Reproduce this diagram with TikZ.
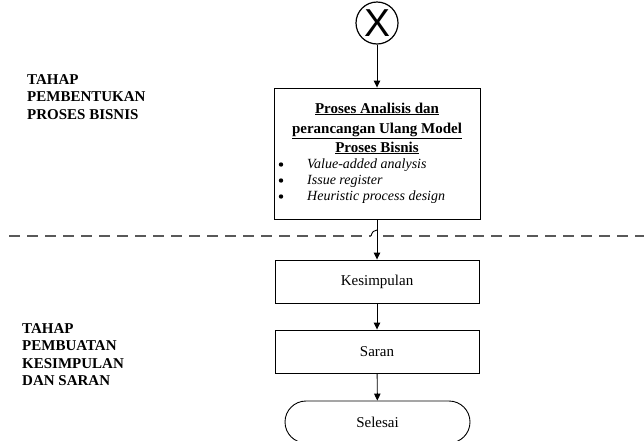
\documentclass[tikz,border=0pt]{standalone}
\usepackage{fontspec}
\setmainfont{Liberation Serif}
\newfontfamily\xsans{Liberation Sans}
\usetikzlibrary{arrows.meta}
\begin{document}
\begin{tikzpicture}[x=1pt,y=-1pt,
  boxstyle/.style={draw,line width=0.9pt,inner sep=0pt},
  conn/.style={line width=0.9pt,-{Triangle[width=6.5pt,length=7pt]}},
  lbl/.style={anchor=base west,inner sep=0pt,font=\fontsize{15}{17}\selectfont\bfseries},
  tnorm/.style={inner sep=0pt,font=\fontsize{15}{17}\selectfont},
  titl/.style={anchor=base,inner sep=0pt,font=\fontsize{15}{17}\selectfont\bfseries},
  itl/.style={anchor=base west,inner sep=0pt,font=\fontsize{14}{17}\selectfont\itshape},
  bul/.style={circle,fill=black,inner sep=0pt,minimum size=4.4pt}]
\useasboundingbox (0,0) rectangle (644,440);
% start connector
\node[draw,circle,line width=1.2pt,minimum size=42pt,inner sep=0pt,font=\fontsize{39}{39}\selectfont\xsans] (start) at (377,23) {X};
% main process box
\node[boxstyle,minimum width=206pt,minimum height=131pt] (box1) at (377,153.5) {};
\node[titl] (t1) at (377,113) {\underline{Proses Analisis dan}};
\node[titl] (t2) at (377,133) {\underline{perancangan Ulang Model}};
\node[titl] (t3) at (377,152) {\underline{Proses Bisnis}};
\node[bul] (b1) at (281,164.5) {};
\node[bul] (b2) at (281,180.5) {};
\node[bul] (b3) at (281,196.5) {};
\node[itl] (i1) at (307,168) {Value-added analysis};
\node[itl] (i2) at (307,184) {Issue register};
\node[itl] (i3) at (307,200) {Heuristic process design};
% lower boxes
\node[boxstyle,minimum width=204pt,minimum height=43pt,tnorm] (kes) at (377,281.5) {Kesimpulan};
\node[boxstyle,minimum width=204pt,minimum height=43pt,tnorm] (saran) at (377,351.5) {Saran};
\node[boxstyle,rounded corners=21pt,minimum width=185pt,minimum height=42pt,tnorm] (end) at (377.5,422) {Selesai};
% side labels
\node[lbl] (a1) at (27,84) {TAHAP};
\node[lbl] (a2) at (27,101.5) {PEMBENTUKAN};
\node[lbl] (a3) at (27,119) {PROSES BISNIS};
\node[lbl] (c1) at (22,333) {TAHAP};
\node[lbl] (c2) at (22,350.5) {PEMBUATAN};
\node[lbl] (c3) at (22,368) {KESIMPULAN};
\node[lbl] (c4) at (22,385.5) {DAN SARAN};
% dashed separator with line jump
\coordinate (dl) at (9,236);
\coordinate (hopa) at (371,236);
\coordinate (hopb) at (377,230);
\coordinate (dr0) at (383,236);
\coordinate (dr) at (644,236);
\draw[line width=1.4pt,gray!70!black,dash pattern=on 11pt off 7pt] (dl) -- (hopa);
\draw[line width=0.9pt] (hopa) .. controls (372,232) and (374,230) .. (hopb);
\draw[line width=1.4pt,gray!70!black,dash pattern=on 11pt off 7pt] (dr0) -- (dr);
% connectors
\draw[conn] (start) -- (box1);
\draw[conn] (box1) -- (kes);
\draw[conn] (kes) -- (saran);
\draw[conn] (saran) -- (end);
\end{tikzpicture}
\end{document}
